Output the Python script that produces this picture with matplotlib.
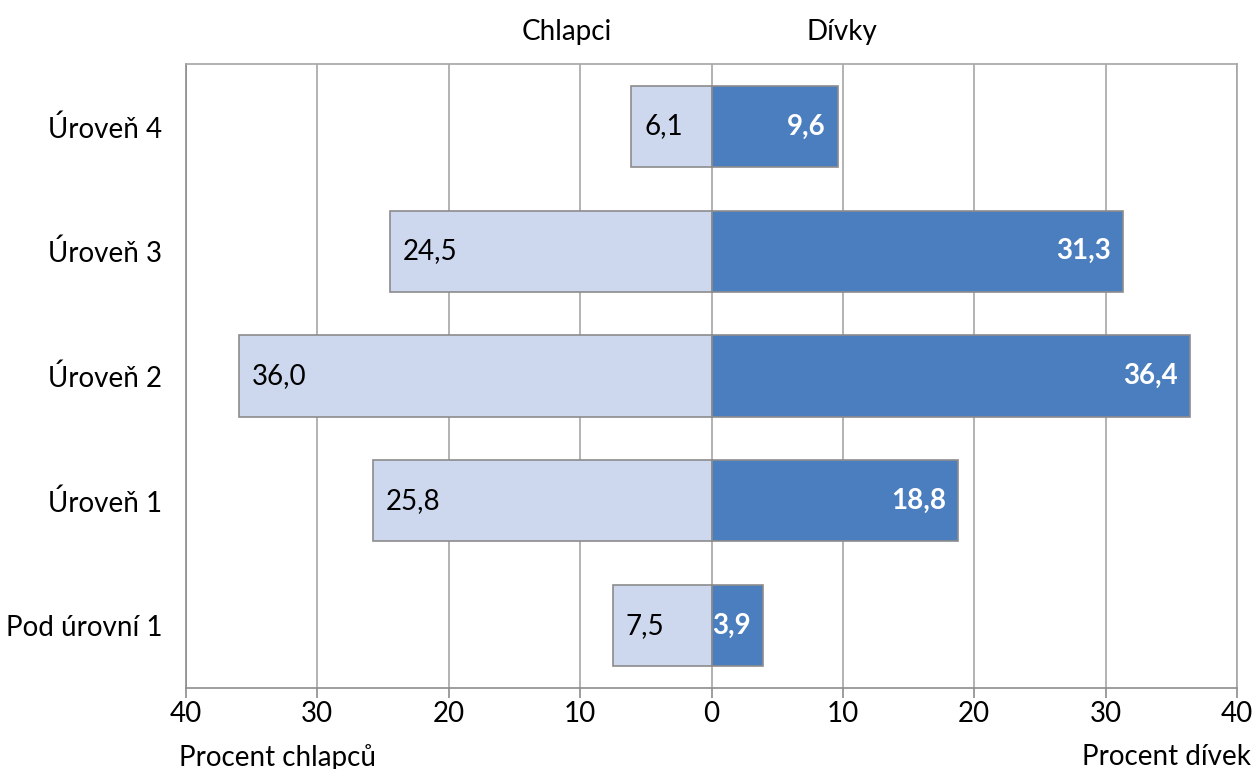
import matplotlib
matplotlib.use("Agg")
import matplotlib.pyplot as plt
import numpy as np

categories = ["Pod úrovní 1", "Úroveň 1", "Úroveň 2", "Úroveň 3", "Úroveň 4"]
boys = [7.5, 25.8, 36.0, 24.5, 6.1]
girls = [3.9, 18.8, 36.4, 31.3, 9.6]
xticks = [-40, -30, -20, -10, 0, 10, 20, 30, 40]
xticklabels = ["40", "30", "20", "10", "0", "10", "20", "30", "40"]

plt.rcParams['font.family'] = ['Lato', 'DejaVu Sans']
FS = 20

fig = plt.figure(figsize=(12.52, 7.69), dpi=100)
ax = fig.add_axes([186/1252, 1-688/769, (1237-186)/1252, (688-64)/769])

y = np.arange(len(categories))
edge = "#8c8c8c"
ax.barh(y, [-b for b in boys], height=0.65, color="#CDD7EE", edgecolor=edge, linewidth=1.2, zorder=3)
ax.barh(y, girls, height=0.65, color="#4A7EBF", edgecolor=edge, linewidth=1.2, zorder=3)

for yi, b, g in zip(y, boys, girls):
    ax.annotate(f"{b:.1f}".replace(".", ","), xy=(-b, yi), xytext=(13, 0), textcoords="offset pixels",
                ha="left", va="center", fontsize=FS, color="black", zorder=4)
    ax.annotate(f"{g:.1f}".replace(".", ","), xy=(g, yi), xytext=(-12, 0), textcoords="offset pixels",
                ha="right", va="center", fontsize=FS, color="white", fontweight="bold", zorder=4)

ax.set_xlim(-40, 40)
ax.set_ylim(-0.5, 4.5)
ax.set_xticks(xticks)
ax.set_xticklabels(xticklabels, fontsize=FS)
ax.set_yticks(y)
ax.set_yticklabels(categories, fontsize=FS)
ax.tick_params(axis="y", length=0, pad=17)
ax.tick_params(axis="x", length=7, width=1.2, color="#8c8c8c", pad=2)
ax.grid(axis="x", color="#a6a6a6", linewidth=1.2, zorder=0)
for s in ax.spines.values():
    s.set_color("#a6a6a6")
    s.set_linewidth(1.2)
ax.spines["bottom"].set_color("#8c8c8c")
ax.spines["left"].set_color("#8c8c8c")

ax.text(-11, 1.0 + 0.03, "Chlapci", transform=ax.get_xaxis_transform(), ha="center", va="bottom", fontsize=FS)
ax.text(9.9, 1.0 + 0.03, "Dívky", transform=ax.get_xaxis_transform(), ha="center", va="bottom", fontsize=FS)
ax.text(-33, -0.09, "Procent chlapců", transform=ax.get_xaxis_transform(), ha="center", va="top", fontsize=FS)
ax.text(34.6, -0.09, "Procent dívek", transform=ax.get_xaxis_transform(), ha="center", va="top", fontsize=FS)

fig.savefig("out.png", dpi=100)
